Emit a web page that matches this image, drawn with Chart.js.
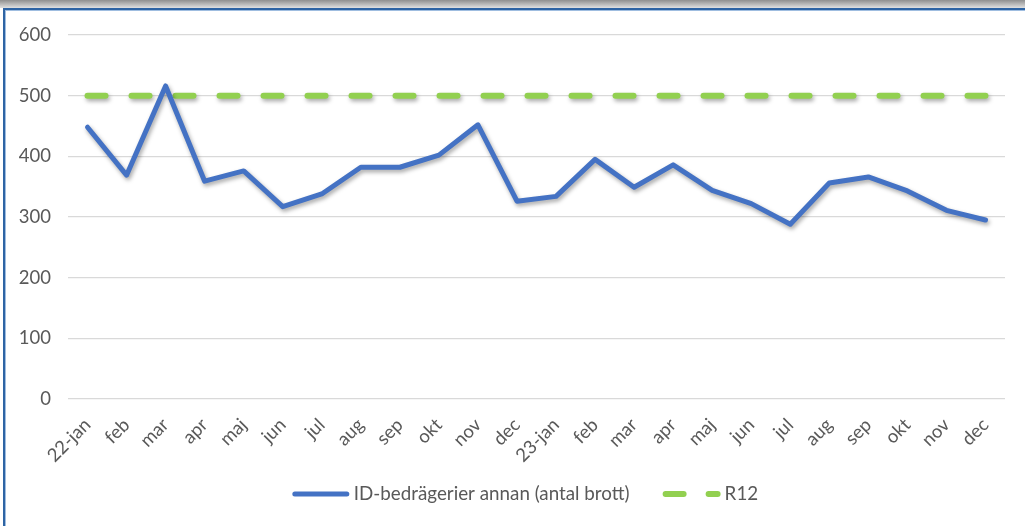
<!DOCTYPE html>
<html>
<head>
<meta charset="utf-8">
<script src="https://cdn.jsdelivr.net/npm/chart.js@4.4.0/dist/chart.umd.min.js"></script>
<style>
  html, body { margin: 0; padding: 0; background: #ffffff; }
  body { width: 1025px; height: 526px; position: relative; overflow: hidden; }
  #topshade { position: absolute; left: 0; top: 0; width: 1025px; height: 8px;
    background: linear-gradient(to bottom, #8f8f8f, #c8c8c8 70%, #e0e0e0); }
  #frame { position: absolute; left: 3px; top: 8px; width: 1030px; height: 530px;
    border-top: 2px solid #2e64a4; border-left: 2px solid #2e64a4; background: #fff;
    box-shadow: inset 1px 1px 0 #9fbde0; }
  #wrap { position: absolute; left: 0; top: 0; width: 1025px; height: 526px; }
</style>
</head>
<body>
<div id="topshade"></div>
<div id="frame"></div>
<div id="wrap"><canvas id="c" width="1025" height="526"></canvas></div>
<script>
const categories = ["22-jan","feb","mar","apr","maj","jun","jul","aug","sep","okt","nov","dec",
                    "23-jan","feb","mar","apr","maj","jun","jul","aug","sep","okt","nov","dec"];
const idFraudValues = [448, 369, 516, 359, 376, 317, 338, 382, 382, 402, 452, 326,
                       334, 395, 349, 386, 344, 322, 288, 356, 366, 343, 311, 295];
const r12Values = [500, 500, 500, 500, 500, 500, 500, 500, 500, 500, 500, 500,
                   500, 500, 500, 500, 500, 500, 500, 500, 500, 500, 500, 500];
const yTicks = [0, 100, 200, 300, 400, 500, 600];
const seriesNames = ["ID-bedrägerier annan (antal brott)", "R12"];

const FONT = "Lato, 'Open Sans', sans-serif";

const shadowPlugin = {
  id: 'lineShadow',
  beforeDatasetDraw(chart) {
    const ctx = chart.ctx;
    ctx.save();
    ctx.shadowColor = 'rgba(0,0,0,0.35)';
    ctx.shadowBlur = 4;
    ctx.shadowOffsetX = 1.5;
    ctx.shadowOffsetY = 2.5;
  },
  afterDatasetDraw(chart) {
    chart.ctx.restore();
  }
};

// Legend drawn from the datasets (Excel-like spacing)
const excelLegend = {
  id: 'excelLegend',
  afterDraw(chart) {
    const ctx = chart.ctx;
    const ds = chart.data.datasets;
    const sampleW = 58, sampleGap = 4, itemGap = 33;
    const cy = 494, centerX = 525;
    ctx.save();
    ctx.font = "18.8px " + FONT;
    const widths = ds.map(d => ctx.measureText(d.label).width);
    let total = 0;
    ds.forEach((d, i) => { total += sampleW + sampleGap + widths[i]; if (i < ds.length - 1) total += itemGap; });
    let x = centerX - total / 2;
    ds.forEach((d, i) => {
      ctx.save();
      ctx.strokeStyle = d.borderColor;
      ctx.lineWidth = d.borderWidth;
      ctx.lineCap = 'round';
      ctx.setLineDash(i === 0 ? [] : [18, 25]);
      ctx.beginPath();
      ctx.moveTo(x + 3, cy);
      ctx.lineTo(x + sampleW - 3, cy);
      ctx.stroke();
      ctx.restore();
      x += sampleW + sampleGap;
      ctx.fillStyle = '#595959';
      ctx.textBaseline = 'middle';
      ctx.textAlign = 'left';
      ctx.fillText(d.label, x, cy);
      x += widths[i] + itemGap;
    });
    ctx.restore();
  }
};

new Chart(document.getElementById('c'), {
  type: 'line',
  data: {
    labels: categories,
    datasets: [
      {
        label: seriesNames[0],
        data: idFraudValues,
        borderColor: '#4472C4',
        borderWidth: 5,
        pointRadius: 0,
        tension: 0,
        borderJoinStyle: 'round',
        borderCapStyle: 'round',
        fill: false
      },
      {
        label: seriesNames[1],
        data: r12Values,
        borderColor: '#92D050',
        borderWidth: 6,
        borderDash: [18, 26],
        borderCapStyle: 'round',
        pointRadius: 0,
        fill: false
      }
    ]
  },
  options: {
    responsive: false,
    animation: false,
    devicePixelRatio: 1,
    layout: { padding: { left: 0, right: 20, top: 35, bottom: 50 } },
    plugins: {
      tooltip: { enabled: false },
      legend: { display: false }
    },
    scales: {
      x: {
        offset: true,
        grid: { display: false, drawTicks: false },
        border: { display: false },
        ticks: {
          font: { family: FONT, size: 18.5 },
          color: '#595959',
          minRotation: 45,
          maxRotation: 45,
          autoSkip: false,
          padding: 15
        },
        afterFit(scale) { scale.height = 77; }
      },
      y: {
        min: 0,
        max: 600,
        afterBuildTicks(scale) { scale.ticks = yTicks.map(v => ({ value: v })); },
        grid: { color: '#d9d9d9', lineWidth: 1.2, drawTicks: false },
        border: { display: false },
        ticks: {
          font: { family: FONT, size: 18.5 },
          color: '#595959',
          padding: 17
        },
        afterFit(scale) { scale.width = 68; }
      }
    }
  },
  plugins: [shadowPlugin, excelLegend]
});
</script>
</body>
</html>
